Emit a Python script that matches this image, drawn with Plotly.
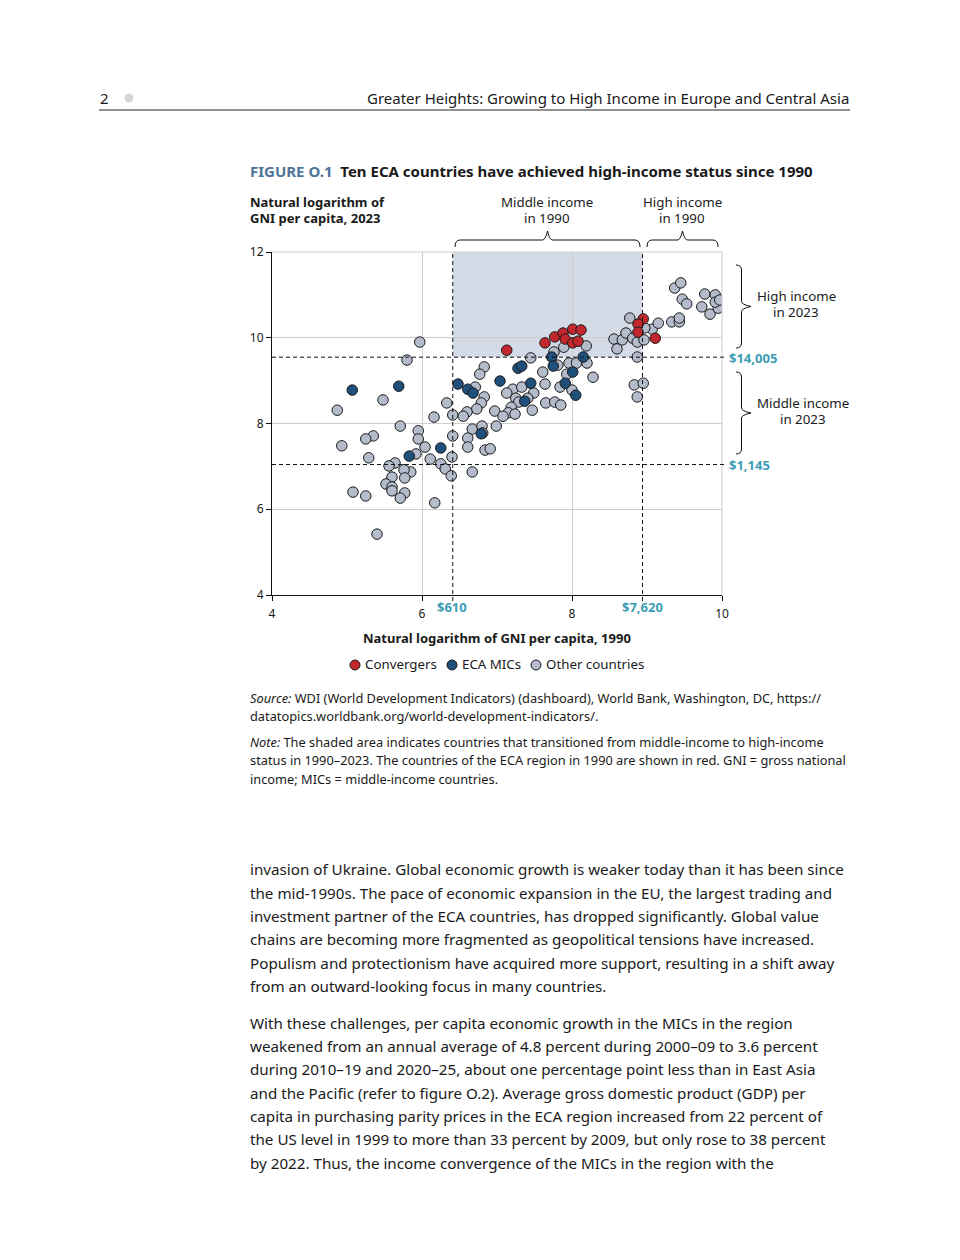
import plotly.graph_objects as go

# ---------------- data (natural log of GNI per capita) ----------------
conv_x = [7.13, 7.64, 7.77, 7.88, 7.91, 8.01, 8.12, 8.01, 8.08, 8.95, 8.88, 8.88, 9.11]
conv_y = [9.71, 9.88, 10.02, 10.11, 9.97, 10.20, 10.18, 9.88, 9.92, 10.44, 10.32, 10.13, 9.99]

mic_x = [5.07, 5.69, 6.25, 5.83, 6.48, 6.61, 6.68, 7.04, 6.79, 7.28, 7.33, 7.45, 7.37,
         7.73, 7.75, 8.15, 8.01, 7.91, 8.05]
mic_y = [8.78, 8.87, 7.43, 7.24, 8.92, 8.80, 8.71, 8.99, 7.76, 9.29, 9.34, 8.94, 8.52,
         9.55, 9.34, 9.55, 9.20, 8.94, 8.66]

other_x = [5.97, 5.80, 5.48, 4.87, 6.33, 6.16, 5.71, 5.95, 5.95, 5.35, 5.25, 4.93, 6.04,
           5.92, 5.29, 6.11, 5.64, 5.56, 6.25, 6.31, 5.85, 5.76, 5.60, 5.77, 5.52, 5.60,
           5.60, 5.77, 5.71, 5.08, 5.25, 6.17, 5.40, 6.39, 6.40, 6.41, 6.67,
           6.83, 6.77, 7.45, 7.61, 6.71, 7.64, 7.21, 7.33, 7.13, 7.49, 6.83, 7.25, 7.41,
           7.29, 7.65, 6.79, 7.19, 6.73, 7.47, 6.97, 6.60, 7.15, 7.08, 7.24, 6.55, 6.41,
           6.99, 6.67, 6.80, 6.81, 6.61, 6.61, 6.84, 6.91,
           8.19, 7.89, 7.96, 8.20, 7.81, 7.93, 8.28, 7.84, 8.00, 7.77, 7.85, 7.76, 8.06,
           8.77, 8.56, 8.67, 8.72, 8.60, 8.81, 8.87, 8.96, 8.87, 8.83, 8.95, 8.87, 9.07,
           9.15, 9.33, 9.43, 9.43, 9.37, 9.45, 9.47, 9.53, 9.77, 9.91, 9.73, 9.84, 9.95,
           9.91, 9.97, 8.97]
other_y = [9.90, 9.48, 8.55, 8.31, 8.48, 8.15, 7.94, 7.83, 7.64, 7.71, 7.64, 7.48, 7.45,
           7.29, 7.20, 7.17, 7.08, 7.01, 7.06, 6.94, 6.87, 6.92, 6.75, 6.73, 6.59, 6.52,
           6.43, 6.38, 6.26, 6.40, 6.31, 6.15, 5.42, 6.78, 7.22, 7.71, 6.87,
           9.32, 9.15, 9.53, 9.20, 8.85, 8.92, 8.80, 8.85, 8.71, 8.71, 8.62, 8.59, 8.59,
           8.50, 8.48, 8.48, 8.38, 8.34, 8.31, 8.29, 8.27, 8.25, 8.17, 8.22, 8.17, 8.20,
           7.94, 7.87, 7.94, 7.78, 7.66, 7.45, 7.38, 7.41,
           9.81, 9.78, 9.41, 9.41, 9.36, 9.15, 9.08, 8.85, 8.78, 8.50, 8.43, 9.67, 9.41,
           10.46, 9.97, 9.95, 10.11, 9.74, 9.99, 9.90, 9.95, 9.55, 8.90, 8.94, 8.62, 10.20,
           10.34, 10.37, 10.37, 10.46, 11.16, 11.28, 10.90, 10.79, 11.02, 11.00, 10.72, 10.55, 10.69,
           10.83, 10.88, 10.23]

# income thresholds (log values) and their labels
thr_1990_low, thr_1990_high = 6.41, 8.94      # $610, $7,620
thr_2023_low, thr_2023_high = 7.043, 9.547    # $1,145, $14,005
x_ticks = [4, 6, 8, 10]
y_ticks = [4, 6, 8, 10, 12]
x_range = [4, 10]
y_range = [4, 12]

series_names = ["Convergers", "ECA MICs", "Other countries"]
RED, BLUE, GRAY = "#c1272d", "#1f4f7b", "#b4bccb"
TEAL = "#3c9db5"
FONT = "Noto Sans"

# ---------------- page geometry (page pixels) ----------------
W, H = 960, 1260
OFF = 8  # browser body margin
L, R, T, B = 272, 722, 252, 595


def px(xp):
    return (xp - L) / (R - L)


def py(yp):
    return (B - yp) / (B - T)


def dx(v):
    return (v - x_range[0]) / (x_range[1] - x_range[0])


def dy(v):
    return (v - y_range[0]) / (y_range[1] - y_range[0])


fig = go.Figure()
mk_line = dict(color="#1a1a1a", width=1)
fig.add_trace(go.Scatter(x=other_x, y=other_y, mode="markers", name=series_names[2],
                         marker=dict(size=10.5, color=GRAY, line=mk_line)))
fig.add_trace(go.Scatter(x=mic_x, y=mic_y, mode="markers", name=series_names[1],
                         marker=dict(size=10.5, color=BLUE, line=mk_line)))
fig.add_trace(go.Scatter(x=conv_x, y=conv_y, mode="markers", name=series_names[0],
                         marker=dict(size=10.5, color=RED, line=mk_line)))

shapes = []
# shaded transition area
shapes.append(dict(type="rect", xref="x", yref="y", x0=thr_1990_low, x1=thr_1990_high,
                   y0=thr_2023_high, y1=y_range[1], fillcolor="#d4dae6", line=dict(width=0),
                   layer="below"))
# borders top/right in gray
shapes.append(dict(type="line", xref="paper", yref="paper", x0=0, x1=1, y0=1, y1=1,
                   line=dict(color="#cccccc", width=1)))
shapes.append(dict(type="line", xref="paper", yref="paper", x0=1, x1=1, y0=0, y1=1,
                   line=dict(color="#cccccc", width=1)))
# dashed threshold lines
dash = dict(color="#111111", width=1, dash="4px,3px")
for v in [thr_1990_low, thr_1990_high]:
    shapes.append(dict(type="line", xref="paper", yref="paper", x0=dx(v), x1=dx(v),
                       y0=py(601), y1=1, line=dash))
for v in [thr_2023_low, thr_2023_high]:
    shapes.append(dict(type="line", xref="paper", yref="paper", x0=0, x1=px(727),
                       y0=dy(v), y1=dy(v), line=dash))


def hbrace(x0, x1, yl, ye, yp):
    m = (x0 + x1) / 2
    r = 5
    pts = (f"M {px(x0)},{py(ye)} Q {px(x0)},{py(yl)} {px(x0 + r)},{py(yl)} "
           f"L {px(m - 5)},{py(yl)} Q {px(m - 2)},{py(yl)} {px(m)},{py(yp)} "
           f"Q {px(m + 2)},{py(yl)} {px(m + 5)},{py(yl)} "
           f"L {px(x1 - r)},{py(yl)} Q {px(x1)},{py(yl)} {px(x1)},{py(ye)}")
    return dict(type="path", xref="paper", yref="paper", path=pts,
                line=dict(color="#111111", width=1))


def vbrace(y0, y1, xl, xe, xp):
    m = (y0 + y1) / 2
    r = 5
    pts = (f"M {px(xe)},{py(y0)} Q {px(xl)},{py(y0)} {px(xl)},{py(y0 + r)} "
           f"L {px(xl)},{py(m - 5)} Q {px(xl)},{py(m - 2)} {px(xp)},{py(m)} "
           f"Q {px(xl)},{py(m + 2)} {px(xl)},{py(m + 5)} "
           f"L {px(xl)},{py(y1 - r)} Q {px(xl)},{py(y1)} {px(xe)},{py(y1)}")
    return dict(type="path", xref="paper", yref="paper", path=pts,
                line=dict(color="#111111", width=1))


shapes.append(hbrace(455, 640, 240, 247, 231))
shapes.append(hbrace(647, 718, 240, 247, 231))
shapes.append(vbrace(265, 348, 741.5, 736, 751))
shapes.append(vbrace(372, 454, 741.5, 736, 751))

# page header rule and dot
shapes.append(dict(type="line", xref="paper", yref="paper", x0=px(99), x1=px(850),
                   y0=py(110), y1=py(110), line=dict(color="#222222", width=1)))
shapes.append(dict(type="circle", xref="paper", yref="paper", x0=px(124.5), x1=px(133.5),
                   y0=py(93.5), y1=py(102.5), fillcolor="#d6d6d6", line=dict(width=0)))

ann = []


def text(t, x, y, size=12.5, color="#1a1a1a", xanchor="left", align="left", family=FONT):
    ann.append(dict(text=t, x=px(x), y=py(y), xref="paper", yref="paper", showarrow=False,
                    xanchor=xanchor, yanchor="middle", align=align,
                    font=dict(family=family, size=size, color=color)))


# header
text("2", 98, 98, size=15)
text("Greater Heights: Growing to High Income in Europe and Central Asia", 851, 98,
     size=15, xanchor="right", align="right")

# figure title
text("<span style='color:#4f7399'><b>FIGURE O.1</b></span>&nbsp; "
     "<b>Ten ECA countries have achieved high-income status since 1990</b>", 248, 171, size=15)

# y-axis title
text("<b>Natural logarithm of</b>", 248, 202, size=13)
text("<b>GNI per capita, 2023</b>", 248, 218, size=13)

# bracket labels
for t, x, y in [("Middle income", 547, 202), ("in 1990", 547, 218),
                ("High income", 682, 202), ("in 1990", 682, 218),
                ("High income", 796, 296), ("in 2023", 796, 312),
                ("Middle income", 803, 403), ("in 2023", 803, 419)]:
    text(t, x, y, size=13.3, xanchor="center")

# threshold labels
text("<b>$14,005</b>", 727, 358, size=13, color=TEAL)
text("<b>$1,145</b>", 727, 465, size=13, color=TEAL)
text("<b>$610</b>", 452, 607, size=13, color=TEAL, xanchor="center")
text("<b>$7,620</b>", 642, 607, size=13, color=TEAL, xanchor="center")

# x-axis title
text("<b>Natural logarithm of GNI per capita, 1990</b>", 497, 638, size=13, xanchor="center")

# manual legend
leg_items = [(series_names[0], RED, 355), (series_names[1], BLUE, 452), (series_names[2], GRAY, 536)]
for name, col, x in leg_items:
    shapes.append(dict(type="circle", xref="paper", yref="paper", x0=px(x - 5), x1=px(x + 5),
                       y0=py(670), y1=py(660), fillcolor=col, line=dict(color="#1a1a1a", width=1)))
    text(name, x + 8, 664, size=13.3)

# source / note
src = [
    ("<i>Source:</i> WDI (World Development Indicators) (dashboard), World Bank, Washington, DC, https://", 698),
    ("datatopics.worldbank.org/world-development-indicators/.", 716),
    ("<i>Note:</i> The shaded area indicates countries that transitioned from middle-income to high-income", 742),
    ("status in 1990\u20132023. The countries of the ECA region in 1990 are shown in red. GNI = gross national", 760),
    ("income; MICs = middle-income countries.", 779),
]
for t, y in src:
    text(t, 248, y, size=12.8)

body = [
    ("invasion of Ukraine. Global economic growth is weaker today than it has been since", 869),
    ("the mid-1990s. The pace of economic expansion in the EU, the largest trading and", 893),
    ("investment partner of the ECA countries, has dropped significantly. Global value", 916),
    ("chains are becoming more fragmented as geopolitical tensions have increased.", 939),
    ("Populism and protectionism have acquired more support, resulting in a shift away", 963),
    ("from an outward-looking focus in many countries.", 986),
    ("With these challenges, per capita economic growth in the MICs in the region", 1023),
    ("weakened from an annual average of 4.8 percent during 2000\u201309 to 3.6 percent", 1046),
    ("during 2010\u201319 and 2020\u201325, about one percentage point less than in East Asia", 1069),
    ("and the Pacific (refer to figure O.2). Average gross domestic product (GDP) per", 1093),
    ("capita in purchasing parity prices in the ECA region increased from 22 percent of", 1116),
    ("the US level in 1999 to more than 33 percent by 2009, but only rose to 38 percent", 1139),
    ("by 2022. Thus, the income convergence of the MICs in the region with the", 1163),
]
for t, y in body:
    text(t, 248, y, size=15.2)

axis_common = dict(showgrid=True, gridcolor="#cccccc", gridwidth=1, zeroline=False,
                   showline=True, linecolor="#111111", linewidth=1, ticks="outside",
                   ticklen=5, tickcolor="#111111", tickwidth=1,
                   tickfont=dict(family=FONT, size=12, color="#1a1a1a"), fixedrange=True)

fig.update_layout(
    width=W - 2 * OFF, height=H - 2 * OFF, autosize=False,
    margin=dict(l=L - OFF, r=W - R - OFF, t=T - OFF, b=H - B - OFF, pad=0),
    paper_bgcolor="white", plot_bgcolor="white",
    font=dict(family=FONT, color="#1a1a1a"),
    xaxis=dict(range=x_range, tickvals=x_ticks, ticklabelstandoff=3, **axis_common),
    yaxis=dict(range=y_range, tickvals=y_ticks, **axis_common),
    showlegend=False,
    shapes=shapes,
    annotations=ann,
)

fig.write_html("out.html")
